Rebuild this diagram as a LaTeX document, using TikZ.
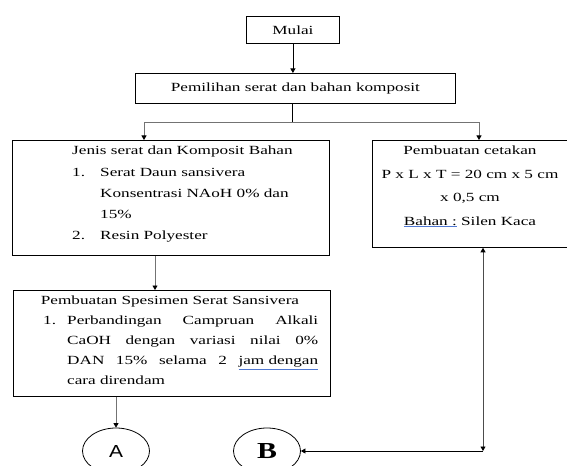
\documentclass[tikz,border=0pt]{standalone}
\usepackage{fontspec}
\setmainfont{Liberation Serif}[FakeStretch=1.38]
\newfontfamily\hurufA{Liberation Sans}[FakeStretch=1.2]
\newfontfamily\hurufB{Liberation Serif}[FakeStretch=1.3]
\usetikzlibrary{arrows.meta,calc,shapes.geometric}

\definecolor{biru}{RGB}{80,120,210}
\newcommand\salah[1]{\textcolor{biru}{\underline{\textcolor{black}{#1}}}}

\tikzset{
  kotak/.style={draw, line width=0.8bp, inner sep=0pt, anchor=north west},
  isi/.style={inner sep=0pt, font=\fontsize{12.5}{21.3}\selectfont},
  garis/.style={line width=0.8bp},
  bulat/.style={draw, ellipse, line width=0.8bp, minimum width=67bp, minimum height=46bp, inner sep=0pt}
}

\begin{document}
\begin{tikzpicture}[x=1bp,y=-1bp,>={Triangle[width=5bp,length=4.5bp,color=black]}]
  \useasboundingbox[fill=white] (0,0) rectangle (567,466);

  % kotak
  \node[kotak, isi, minimum width=93bp, minimum height=27bp] (mulai) at (246,16) {Mulai};
  \node[kotak, isi, minimum width=320bp, minimum height=30bp] (pilih) at (135,73) {Pemilihan serat dan bahan komposit};
  \node[kotak, minimum width=317bp, minimum height=115bp] (jenis) at (12,140) {};
  \node[kotak, minimum width=196bp, minimum height=107bp] (cetak) at (372,140) {};
  \node[kotak, minimum width=317bp, minimum height=106bp] (spes) at (13,290) {};

  % isi kotak
  \node[isi, anchor=north west, align=left] (jenisisi) at (72,146)
    {Jenis serat dan Komposit Bahan\\
     \makebox[28bp][l]{1.}Serat Daun sansivera\\
     \hspace*{28bp}Konsentrasi NAoH 0\% dan\\
     \hspace*{28bp}15\%\\
     \makebox[28bp][l]{2.}Resin Polyester};
  \node[isi, anchor=north, align=center, font=\fontsize{12.5}{23.5}\selectfont] (cetakisi) at (470,146)
    {Pembuatan cetakan\\ P x L x T = 20 cm x 5 cm\\ x 0,5 cm\\ \salah{Bahan :} Silen Kaca};
  \node[isi, anchor=north] (spesjudul) at (170,296) {Pembuatan Spesimen Serat Sansivera};
  \node[isi, anchor=north west] (spesno) at (43,316) {1.};
  \node[isi, anchor=north west, text width=251bp, align=justify, font=\fontsize{12.5}{20}\selectfont] (spesisi) at (67,316)
    {Perbandingan Campruan Alkali\linebreak
     CaOH dengan variasi nilai 0\%\linebreak
     DAN 15\% selama 2 \salah{jam dengan}\linebreak
     cara direndam};

  % A dan B
  \node[bulat, font=\hurufA\fontsize{17.5}{18}\selectfont] (A) at (116,451) {A};
  \node[bulat, font=\hurufB\bfseries\fontsize{23}{24}\selectfont] (B) at (267,451) {B};

  % panah
  \coordinate (cabang) at (292,122);
  \coordinate (jmasuk) at (144,140);
  \coordinate (cmasuk) at (479,140);
  \coordinate (jspes) at (155,0);
  \coordinate (sudut) at (483,451);
  \draw[garis,->] (mulai.south) -- (mulai.south |- pilih.north);
  \draw[garis] (pilih.south -| cabang) -- (cabang);
  \draw[garis,->,draw=black!55] (cabang) -| (jmasuk);
  \draw[garis,->,draw=black!55] (cabang) -| (cmasuk);
  \draw[garis,->,draw=black!55] (jenis.south -| jspes) -- (spes.north -| jspes);
  \draw[garis,->,draw=black!55] (spes.south -| A) -- (A.north);
  \draw[garis,<->,draw=black!70] (cetak.south -| sudut) -- (sudut);
  \draw[garis,->] (sudut) -- (B.east);
\end{tikzpicture}
\end{document}
